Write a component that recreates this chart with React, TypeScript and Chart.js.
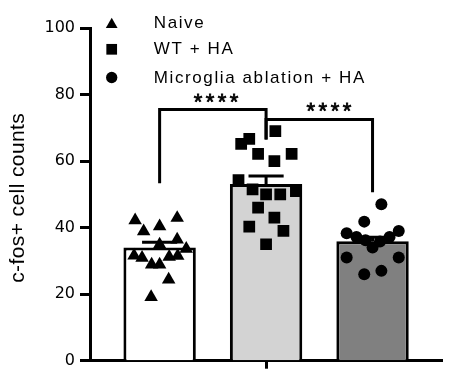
import React, { useEffect, useRef } from 'react';
import { Chart, registerables } from 'chart.js';

Chart.register(...registerables);

// ---- data ----
const categories = ['Naive', 'WT + HA', 'Microglia ablation + HA'];
const barMeans = [34.0, 53.1, 35.9];
const barSems = [1.6, 2.4, 1.2];
const barColors = ['#ffffff', '#d3d3d3', '#808080'];
const pointStyles = ['triangle', 'rect', 'circle'];

const naiveValues = [42.2, 42.9, 40.4, 38.9, 36.4, 34.9, 33.6, 31.6, 30.9, 31.2, 31.5, 28.9, 28.9, 24.4, 19.1];
const naiveJitter = [-0.23, 0.165, 0.0, -0.15, 0.165, 0.0, 0.25, -0.24, -0.165, 0.09, 0.17, -0.075, 0.0, 0.085, -0.08];

const wtValues = [69.0, 66.7, 65.2, 62.2, 62.2, 60.0, 54.3, 51.0, 51.5, 50.0, 50.0, 46.0, 43.0, 40.3, 39.0, 35.0];
const wtJitter = [0.087, -0.158, -0.234, -0.075, 0.24, 0.078, -0.259, 0.28, -0.127, 0.0, 0.133, -0.075, 0.078, -0.158, 0.163, 0.0];

const ablationValues = [47.0, 41.8, 38.3, 39.0, 37.2, 37.2, 34.0, 31.0, 31.0, 27.0, 26.0, 36.2, 35.8];
const ablationJitter = [0.083, -0.078, -0.243, 0.246, -0.151, 0.16, 0.0, -0.243, 0.246, 0.083, -0.078, -0.066, 0.07];

const yTickStep = 20;
const yMin = 0;
const yMax = 100;
const yTitle = 'c-fos+ cell counts';

const bracketPairs = [[0, 1], [1, 2]];
const bracketLevels = [75.5, 72.5];
const bracketLegEnds = [[53.3, 66.5], [66.5, 50.6]];
const starLabels = ['****', '****'];
const starX = [0.53, 1.59];
const starY = [79.0, 76.4];

const groupValues = [naiveValues, wtValues, ablationValues];
const groupJitter = [naiveJitter, wtJitter, ablationJitter];

const annotationPlugin = {
  id: 'annotations',
  afterDatasetsDraw(chart: any) {
    const ctx = chart.ctx;
    const xs = chart.scales.x;
    const ys = chart.scales.y;
    ctx.save();
    ctx.strokeStyle = '#000';
    ctx.fillStyle = '#000';
    ctx.lineWidth = 3;
    ctx.lineCap = 'butt';

    // error bars (mean + SEM)
    barMeans.forEach((m, i) => {
      const x = xs.getPixelForValue(i);
      const half = Math.abs(xs.getPixelForValue(i + 0.165) - x);
      const yTop = ys.getPixelForValue(m + barSems[i]);
      const yMean = ys.getPixelForValue(m);
      ctx.beginPath();
      ctx.moveTo(x, yMean);
      ctx.lineTo(x, yTop);
      ctx.moveTo(x - half, yTop);
      ctx.lineTo(x + half, yTop);
      ctx.stroke();
    });

    // brackets
    ctx.lineJoin = 'miter';
    bracketPairs.forEach(([a, b], i) => {
      const xa = xs.getPixelForValue(a);
      const xb = xs.getPixelForValue(b);
      const yl = ys.getPixelForValue(bracketLevels[i]);
      ctx.beginPath();
      ctx.moveTo(xa, ys.getPixelForValue(bracketLegEnds[i][0]));
      ctx.lineTo(xa, yl);
      ctx.lineTo(xb, yl);
      ctx.lineTo(xb, ys.getPixelForValue(bracketLegEnds[i][1]));
      ctx.stroke();
    });

    // stars
    ctx.font = '22px "Liberation Sans", Arial, sans-serif';
    (ctx as any).letterSpacing = '3.5px';
    ctx.textBaseline = 'alphabetic';
    ctx.textAlign = 'left';
    ctx.lineWidth = 0.8;
    starLabels.forEach((s, i) => {
      const w = ctx.measureText(s).width - 3.5;
      const cx = xs.getPixelForValue(starX[i]);
      const cy = ys.getPixelForValue(starY[i]);
      ctx.fillText(s, cx - w / 2, cy + 11.4);
      ctx.strokeText(s, cx - w / 2, cy + 11.4);
    });
    ctx.lineWidth = 3;

    // legend
    const lx = 111.7;
    const markerY = [24.5, 49.3, 77.5];
    const baselines = [27.7, 54.3, 83.3];
    ctx.beginPath();
    const r = 6.8;
    ctx.moveTo(lx, markerY[0] - r);
    ctx.lineTo(lx + 0.866 * r, markerY[0] + 0.5 * r);
    ctx.lineTo(lx - 0.866 * r, markerY[0] + 0.5 * r);
    ctx.closePath();
    ctx.fill();
    ctx.fillRect(lx - 5.35, markerY[1] - 5.35, 10.7, 10.7);
    ctx.beginPath();
    ctx.arc(lx, markerY[2], 5.65, 0, Math.PI * 2);
    ctx.fill();

    ctx.font = '17px "Liberation Sans", Arial, sans-serif';
    (ctx as any).letterSpacing = '1.6px';
    categories.forEach((c, i) => {
      ctx.fillText(c, 153.8, baselines[i]);
    });

    // y axis title
    ctx.font = '21px "Liberation Sans", Arial, sans-serif';
    (ctx as any).letterSpacing = '0.4px';
    ctx.translate(24, 198);
    ctx.rotate(-Math.PI / 2);
    ctx.textAlign = 'left';
    const tw = ctx.measureText(yTitle).width - 0.4;
    ctx.fillText(yTitle, -tw / 2, 0);
    ctx.restore();
  },
};

export default function App() {
  const canvasRef = useRef<HTMLCanvasElement | null>(null);

  useEffect(() => {
    document.body.style.margin = '0';
    const canvas = canvasRef.current;
    if (!canvas) return;

    const radii = [7.8, 8.3, 6.0];
    const scatterSets = groupValues.map((vals, g) => ({
      type: 'scatter' as const,
      label: categories[g],
      data: vals.map((v, i) => ({ x: g + groupJitter[g][i], y: v })),
      pointStyle: pointStyles[g],
      pointRadius: radii[g],
      pointHoverRadius: radii[g],
      backgroundColor: '#000',
      borderColor: '#000',
      borderWidth: 0,
      showLine: false,
      order: 0,
    }));

    const chart = new Chart(canvas, {
      type: 'bar',
      data: {
        datasets: [
          ...scatterSets,
          {
            type: 'bar' as const,
            label: 'mean',
            data: barMeans.map((m, i) => ({ x: i, y: m })),
            backgroundColor: barColors,
            borderColor: '#000',
            borderWidth: 3,
            borderSkipped: 'start',
            barPercentage: 0.68,
            categoryPercentage: 1,
            order: 1,
          } as any,
        ],
      },
      options: {
        responsive: false,
        animation: false,
        devicePixelRatio: 1,
        layout: { padding: { top: 28, right: 0, bottom: 0, left: 0 } },
        plugins: {
          legend: { display: false },
          tooltip: { enabled: false },
          title: { display: false },
        },
        scales: {
          x: {
            type: 'linear',
            min: -0.654,
            max: 2.659,
            bounds: 'data',
            offset: false,
            z: 1,
            afterBuildTicks: (axis: any) => {
              axis.ticks = [{ value: 1 }];
            },
            afterFit: (axis: any) => {
              axis.height = 7.5;
              axis.paddingLeft = 0;
              axis.paddingRight = 0;
            },
            ticks: { display: false },
            grid: {
              display: true,
              offset: false,
              drawOnChartArea: false,
              drawTicks: true,
              tickLength: 8,
              tickWidth: 3,
              tickColor: '#000',
              color: '#000',
            },
            border: { display: true, color: '#000', width: 3 },
          },
          y: {
            type: 'linear',
            min: yMin,
            max: yMax,
            afterFit: (axis: any) => {
              axis.width = 90;
              axis.paddingTop = 0;
              axis.paddingBottom = 0;
            },
            ticks: {
              stepSize: yTickStep,
              color: '#000',
              padding: 5,
              font: { family: '"DejaVu Sans", sans-serif', size: 16 },
            },
            grid: {
              display: true,
              drawOnChartArea: false,
              drawTicks: true,
              tickLength: 10,
              tickWidth: 3,
              tickColor: '#000',
              color: '#000',
            },
            border: { display: true, color: '#000', width: 3 },
          },
        },
      } as any,
      plugins: [annotationPlugin],
    });

    return () => chart.destroy();
  }, []);

  return (
    <div style={{ width: 451, height: 369 }}>
      <canvas ref={canvasRef} width={451} height={369} style={{ display: 'block' }} />
    </div>
  );
}
